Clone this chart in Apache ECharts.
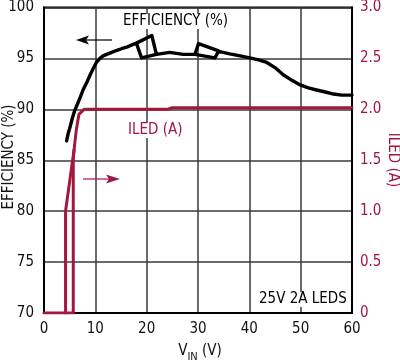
<!DOCTYPE html>
<html>
<head>
<meta charset="utf-8">
<script src="https://cdn.jsdelivr.net/npm/echarts@6/dist/echarts.min.js"></script>
<style>html,body{margin:0;padding:0;background:#fff}#c{width:400px;height:362px}</style>
</head>
<body>
<div id="c"></div>
<script>
// ---- data ----
// efficiency (%), main trace incl. the upper edges of the hysteresis loops
var effMain = [[4.4,86.9],[4.7,87.6],[5.1,88.3],[5.5,89.1],[6.0,89.9],[6.5,90.5],[7.0,91.1],[7.6,91.9],[8.3,92.6],[9.0,93.4],[9.6,94.0],[10.2,94.6],[10.9,95.0],[11.5,95.25],[12.2,95.4],[13.2,95.6],[14.2,95.8],[15.1,95.95],[16.1,96.1],[17.0,96.3],[18.0,96.5],[21.0,97.25],[21.9,95.4],[24.5,95.6],[27.1,95.4],[29.4,95.4],[33.3,95.05],[34.0,95.7],[36.2,95.45],[38.2,95.25],[40.1,95.05],[41.8,94.85],[43.4,94.6],[45.0,94.1],[46.6,93.4],[48.3,92.85],[49.9,92.4],[51.5,92.1],[53.1,91.9],[54.8,91.7],[56.4,91.5],[58.0,91.4],[60,91.4]];
// efficiency, remaining edges of the two hysteresis loops
var effLoop1 = [[21.9,95.4],[19.0,95.05],[18.0,96.5]];
var effLoop2 = [[29.4,95.4],[30.1,96.45],[34.0,95.75]];
// LED current (A)
var iledMain = [[0,0],[5.7,0],[5.7,1.5],[5.85,1.6],[6.3,1.8],[6.8,1.95],[7.8,2.0],[24,2.0],[25,2.015],[60,2.015]];
var iledLoop = [[4.2,0],[4.2,1.0],[5.85,1.6]];
// ticks
var xTicks = [0,10,20,30,40,50,60];
var effTicks = [70,75,80,85,90,95,100];
var iledTicks = ['0','0.5','1.0','1.5','2.0','2.5','3.0'];

var RED = '#a3173f';
var FONT = '"Liberation Sans Narrow","DejaVu Sans Condensed","Liberation Sans",Arial,sans-serif';

var chart = echarts.init(document.getElementById('c'), null, {renderer:'canvas'});
function lineSeries(data, color, yIdx, w){
  return {type:'line', data:data, yAxisIndex:yIdx, showSymbol:false, symbol:'none', smooth:false,
    lineStyle:{color:color, width:w, join:'round', cap:'round'}, itemStyle:{color:color}, z:3, animation:false, silent:true};
}
chart.setOption({
  animation:false,
  grid:{left:44, right:48, top:6, bottom:49, show:true, borderColor:'#000', borderWidth:2, backgroundColor:'transparent'},
  xAxis:{type:'value', min:xTicks[0], max:xTicks[xTicks.length-1], interval:10,
    axisLine:{show:true, lineStyle:{color:'#000', width:2}}, axisTick:{show:false},
    axisLabel:{color:'#111', fontFamily:FONT, fontSize:15, margin:9, formatter:function(v){return xTicks.indexOf(v)>=0?String(v):'';}},
    splitLine:{show:true, lineStyle:{color:'#3a3a3a', width:1.5}}},
  yAxis:[
    {type:'value', min:effTicks[0], max:effTicks[effTicks.length-1], interval:5, position:'left',
      axisLine:{show:true, lineStyle:{color:'#000', width:2}}, axisTick:{show:false},
      axisLabel:{color:'#111', fontFamily:FONT, fontSize:15, margin:10},
      splitLine:{show:true, lineStyle:{color:'#3a3a3a', width:1.5}}},
    {type:'value', min:0, max:3, interval:0.5, position:'right',
      axisLine:{show:true, lineStyle:{color:'#000', width:2}}, axisTick:{show:false},
      axisLabel:{color:RED, fontFamily:FONT, fontSize:15, margin:8, formatter:function(v){return iledTicks[Math.round(v/0.5)];}},
      splitLine:{show:false}}
  ],
  series:[
    lineSeries(iledMain, RED, 1, 3),
    lineSeries(iledLoop, RED, 1, 3),
    lineSeries(effMain, '#000', 0, 3.4),
    lineSeries(effLoop1, '#000', 0, 3.4),
    lineSeries(effLoop2, '#000', 0, 3.4)
  ],
  graphic:[
    {type:'text', left:123, top:14, z:10, style:{text:'EFFICIENCY (%)', fill:'#000', font:'15px '+FONT, backgroundColor:'#fff'}},
    {type:'text', left:128, top:123, z:10, style:{text:'ILED (A)', fill:RED, font:'15px '+FONT, backgroundColor:'#fff'}},
    {type:'text', left:258, top:292, z:10, style:{text:'25V 2A LEDS', fill:'#000', font:'15px '+FONT, backgroundColor:'#fff', padding:[0,1,0,1]}},
    // arrows
    {type:'line', z:10, shape:{x1:84, y1:40, x2:112, y2:40}, style:{stroke:'#000', lineWidth:1.2}},
    {type:'polygon', z:10, shape:{points:[[76,40],[89,35.5],[86,40],[89,44.5]]}, style:{fill:'#000'}},
    {type:'line', z:10, shape:{x1:83, y1:179, x2:112, y2:179}, style:{stroke:RED, lineWidth:1.2}},
    {type:'polygon', z:10, shape:{points:[[120,179],[106,174.5],[109,179],[106,183.5]]}, style:{fill:RED}},
    // axis titles
    {type:'text', x:9, y:157, rotation:Math.PI/2, z:10, style:{text:'EFFICIENCY (%)', fill:'#111', font:'15px '+FONT, align:'center', verticalAlign:'middle'}},
    {type:'text', x:393, y:160, rotation:-Math.PI/2, z:10, style:{text:'ILED (A)', fill:RED, font:'15px '+FONT, align:'center', verticalAlign:'middle'}},
    {type:'text', x:200, y:351, z:10, style:{
      text:'{a|V}{b|IN}{a| (V)}', align:'center', verticalAlign:'middle',
      rich:{a:{fontFamily:FONT, fontSize:15, fill:'#111', verticalAlign:'bottom'},
            b:{fontFamily:FONT, fontSize:11, fill:'#111', verticalAlign:'bottom', padding:[0,0,-4,0]}}}}
  ]
});
</script>
</body>
</html>
